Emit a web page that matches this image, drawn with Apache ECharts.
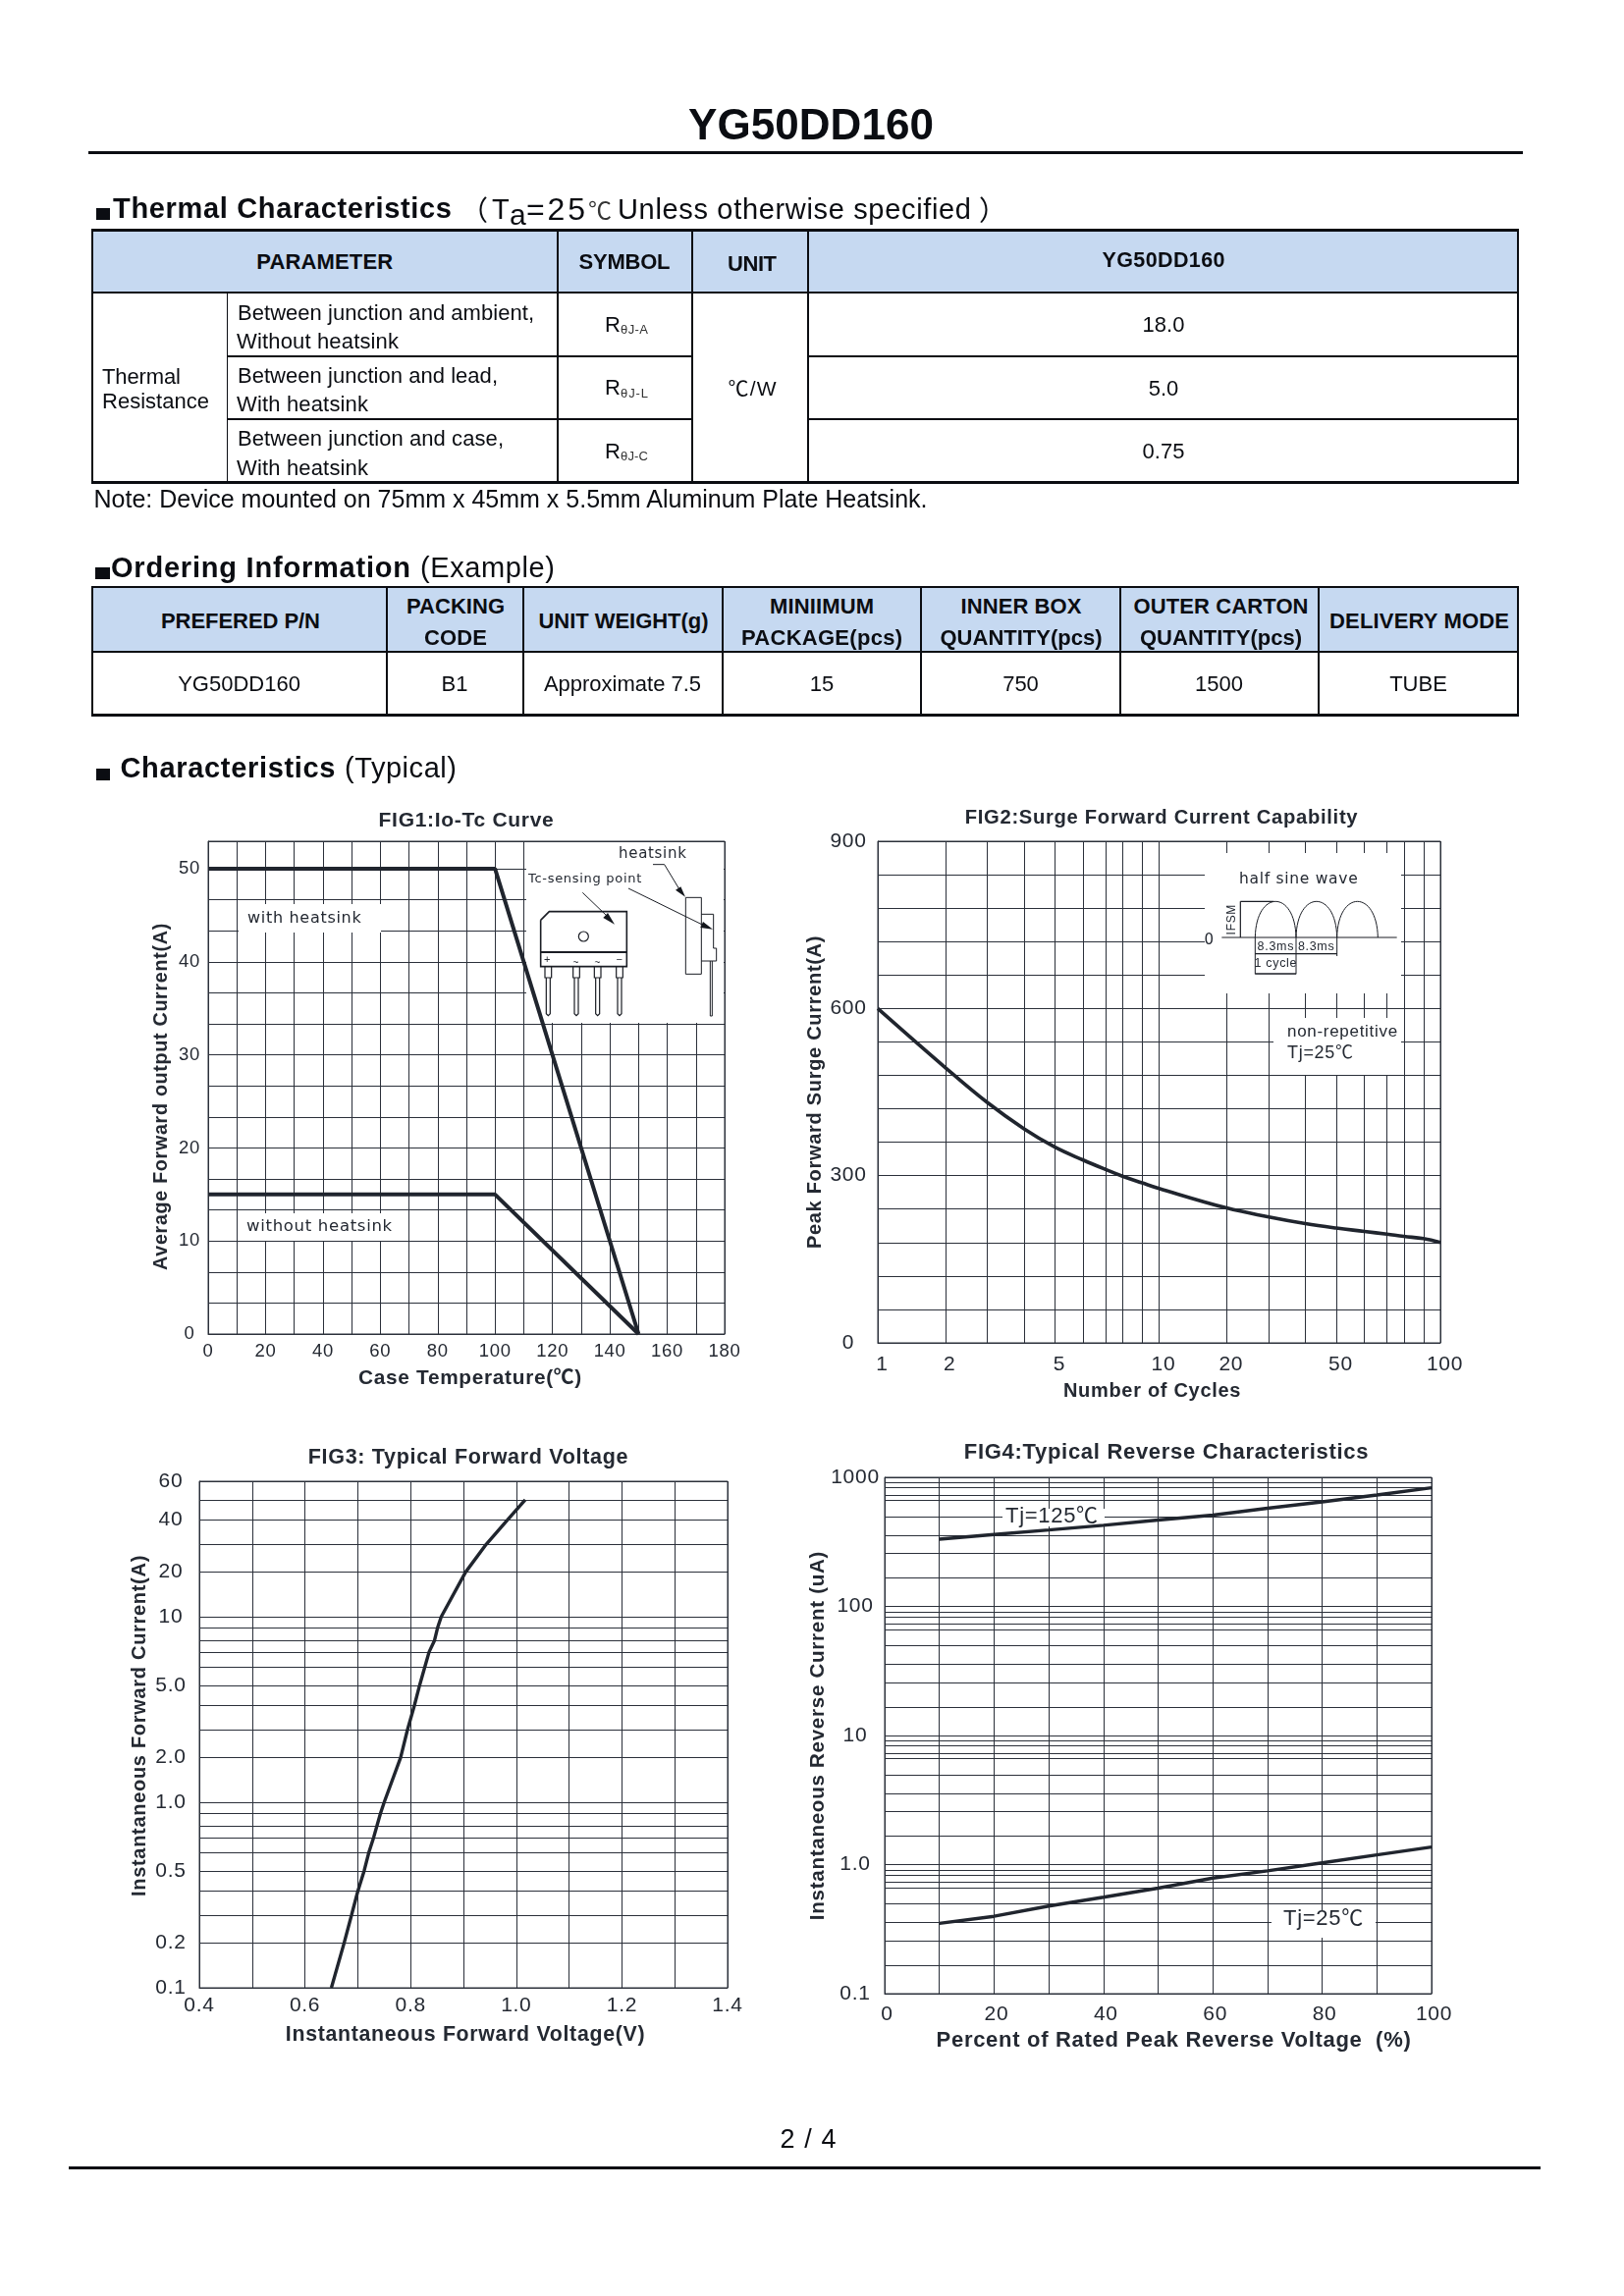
<!DOCTYPE html>
<html><head><meta charset="utf-8"><title>YG50DD160</title>
<script src="https://cdn.jsdelivr.net/npm/echarts@6/dist/echarts.min.js"></script>
<style>
html,body{margin:0;padding:0;background:#fff}
#page{position:relative;width:1654px;height:2339px;overflow:hidden;background:#fff;font-family:"Liberation Sans","Noto Sans CJK SC",Arial,sans-serif;color:#0b0d12}
#chart{position:absolute;left:0;top:0;width:1654px;height:2339px}
.t{position:absolute;white-space:pre;line-height:1}
.b{position:absolute}
</style></head><body>
<div id="page"><div id="chart"></div></div>
<script>
// ---------- page text and table values ----------
const partNumber = 'YG50DD160';
const thermalHeaders = ['PARAMETER', 'SYMBOL', 'UNIT', 'YG50DD160'];
const thermalGroup = ['Thermal', 'Resistance'];
const thermalRows = [
  ['Between junction and ambient,', 'Without heatsink'],
  ['Between junction and lead,', 'With heatsink'],
  ['Between junction and case,', 'With heatsink']];
const thermalSymbols = ['θJ-A', 'θJ-L', 'θJ-C'];
const thermalUnit = '℃/W';
const thermalValues = ['18.0', '5.0', '0.75'];
const thermalNote = 'Note: Device mounted on 75mm x 45mm x 5.5mm Aluminum Plate Heatsink.';
const orderHeaders = [['PREFERED P/N'], ['PACKING', 'CODE'], ['UNIT WEIGHT(g)'], ['MINIIMUM', 'PACKAGE(pcs)'],
  ['INNER BOX', 'QUANTITY(pcs)'], ['OUTER CARTON', 'QUANTITY(pcs)'], ['DELIVERY MODE']];
const orderValues = ['YG50DD160', 'B1', 'Approximate 7.5', '15', '750', '1500', 'TUBE'];

// ---------- FIG1 ----------
const fig1Temp = [0, 100, 150];
const fig1With = [50, 50, 0];
const fig1Without = [15, 15, 0];
const fig1XTicks = [0,10,20,30,40,50,60,70,80,90,100,110,120,130,140,150,160,170,180];
const fig1XLabels = [0,20,40,60,80,100,120,140,160,180];
const fig1YTicks = [0,3.333,6.667,10,13.333,16.667,20,23.333,26.667,30,33.333,36.667,40,43.333,46.667,50,52.96];
const fig1YLabels = [0,10,20,30,40,50];

// ---------- semi-log paper: where printed values fall inside a decade ----------
const paperStops = [0,.24,.39,.52,.63,.73,.81,.87,.94,1];
const fig4Stops  = [0,.22,.41,.55,.695,.82,.865,.92,.96,1];

// ---------- FIG2 ----------
const fig2Cycles = [1,2,3,4,5,6,7,8,9,10,20,30,40,50,60,70,80,90,100];
const fig2Surge  = [600,494,431,384,351,328,311,299,287,277,242,226,214,206,200,195,191,187,180];
const fig2XLabels = [1,2,5,10,20,50,100];
const fig2YTicks = [0,60,120,180,240,300,360,420,480,540,600,660,720,780,840,900];
const fig2YLabels = [0,300,600,900];

// ---------- FIG3 ----------
const fig3Volt = [.650,.674,.688,.700,.712,.721,.730,.736,.743,.750,.781,.794,.807,.817,.827,.835,.845,.851,.858,.904,.943,.983,1.017];
const fig3Amp  = [.1,.2,.3,.4,.5,.6,.7,.8,.9,1,2,3,4,5,6,7,8,9,10,20,30,40,50];
const fig3XTicks = [.4,.5,.6,.7,.8,.9,1,1.1,1.2,1.3,1.4];
const fig3XLabels = [.4,.6,.8,1,1.2,1.4];
const fig3YTicks = [.1,.2,.3,.4,.5,.6,.7,.8,.9,1,2,3,4,5,6,7,8,9,10,20,30,40,50,60];
const fig3YLabels = {'0.1':'0.1','0.2':'0.2','0.5':'0.5','1':'1.0','2':'2.0','5':'5.0','10':'10','20':'20','40':'40','60':'60'};

// ---------- FIG4 ----------
const fig4Percent = [10,20,30,40,50,60,70,80,90,100];
const fig4Tj125 = [379,405,429,454,482,510,552,592,696,798];
const fig4Tj25  = [.396,.434,.489,.542,.598,.755,.878,1.06,1.34,1.62];
const fig4XTicks = [0,10,20,30,40,50,60,70,80,90,100];
const fig4XLabels = [0,20,40,60,80,100];
const fig4YTicks = [.1,.2,.3,.4,.5,.6,.7,.8,.9,1,2,3,4,5,6,7,8,9,10,20,30,40,50,60,70,80,90,100,200,300,400,500,600,700,800,900,1000];
const fig4YLabels = {'0.1':'0.1','1':'1.0','10':'10','100':'100','1000':'1000'};

// ---------- helpers ----------
function paper(v, stops) {
  const d = Math.floor(Math.log10(v) + 1e-9);
  const m = v / Math.pow(10, d);
  const i = Math.min(Math.floor(m + 1e-9), 9);
  return d + stops[i-1] + (stops[i] - stops[i-1]) * (m - i);
}
const INK = '#242932', GRID = '#2b303a', FONT = '"Liberation Sans","Noto Sans CJK SC",Arial,sans-serif';
const p2 = v => paper(v, paperStops), p4 = v => paper(v, fig4Stops);
const key = v => v.toFixed(4);
function lookup(values, fn, text) {
  const m = {}; values.forEach(v => m[key(fn(v))] = text ? text(v) : String(v));
  return x => { const k = m[key(x)]; return k === undefined ? '' : k; };
}
function xAxis(i, o) {
  return Object.assign({ gridIndex:i, type:'value', nameLocation:'middle',
    axisLine:{show:true,onZero:false,lineStyle:{color:GRID,width:1}}, axisTick:{show:false,customValues:o.ticks},
    splitLine:{show:true,lineStyle:{color:GRID,width:1}},
    nameTextStyle:Object.assign({fontFamily:FONT,fontWeight:'bold',fontSize:20,color:INK},o.nameStyle||{}) ,
    axisLabel:{customValues:o.labels,formatter:o.fmt,color:INK,fontFamily:FONT,fontSize:o.fs||21,margin:o.margin,hideOverlap:false,showMinLabel:true,showMaxLabel:true,padding:o.labelPad||0}
  }, {min:o.min,max:o.max,name:o.name,nameGap:o.gap});
}
function yAxis(i, o) {
  const a = xAxis(i, o);
  a.axisLabel.align = 'center';
  return a;
}
function line(xi, name, pts, w, smooth) {
  return { type:'line', name, xAxisIndex:xi, yAxisIndex:xi, data:pts, symbol:'none', clip:false, smooth:smooth||false,
    lineStyle:{color:'#20252e',width:w||3.6,cap:'butt'}, silent:true, animation:false };
}

// ---------- graphic annotations (insets, notes) ----------
const g = [];
const mask = (x0,y0,x1,y1) => g.push({type:'rect',silent:true,z:1,shape:{x:x0,y:y0,width:x1-x0,height:y1-y0},style:{fill:'#fff'}});
const label = (s,x,y,font,extra) => g.push({type:'text',silent:true,z:5,x,y,rotation:(extra&&extra.rot)||0,
  style:{text:s,font,fill:(extra&&extra.fill)||INK,textAlign:(extra&&extra.align)||'left',textVerticalAlign:'middle'}});
const poly = (pts,lw,col) => g.push({type:'polyline',silent:true,z:4,shape:{points:pts},style:{stroke:col||'#1a1d24',lineWidth:lw||1,fill:null}});
const tri = (pts) => g.push({type:'polygon',silent:true,z:4,shape:{points:pts},style:{fill:'#14171d'}});
const DJ = '"DejaVu Sans",sans-serif', LS = FONT;

// FIG1 masks and notes
mask(536,858,737,1042);
mask(243,921,388,950);
mask(243,1236,400,1264);
label('with heatsink',252,936,'16px '+DJ);
label('without heatsink',251,1250,'16.5px '+DJ);
const f1 = (a,b) => [520+a/3,850+b/3];
label('heatsink',630,870,'15px '+DJ);
label('Tc-sensing point',538,896,'13px '+DJ);
poly([f1(92,262),f1(118,236),f1(355,236),f1(355,404),f1(92,404),f1(92,262)],1.6);
poly([f1(92,360),f1(355,360)],2);
g.push({type:'circle',silent:true,z:4,shape:{cx:520+223/3,cy:850+312/3,r:5},style:{fill:'#fff',stroke:'#1a1d24',lineWidth:1.2}});
label('+',520+113/3,850+383/3,'11px '+LS,{align:'center'});
label('~',520+200/3,850+394/3,'10px '+LS,{align:'center'});
label('~',520+266/3,850+394/3,'10px '+LS,{align:'center'});
label('−',520+333/3,850+383/3,'11px '+LS,{align:'center'});
[115,201,266,333].forEach(c=>{
  poly([f1(c-10,404),f1(c-10,438),f1(c+10,438),f1(c+10,404)],1.2);
  poly([f1(c-6,438),f1(c-6,548),f1(c,554),f1(c+6,548),f1(c+6,438)],1.2);
});
poly([f1(535,193),f1(583,193),f1(583,427),f1(535,427),f1(535,193)],1);
poly([f1(583,244),f1(620,244),f1(620,348),f1(629,348),f1(629,387),f1(583,387)],1);
poly([f1(610,387),f1(610,555),f1(616,555),f1(616,387)],1);
poly([f1(435,92),f1(470,92),f1(520,175)],1);
tri([f1(534,191),f1(504,170),f1(520,160)]);
poly([f1(360,165),f1(590,278)],1);
tri([f1(618,290),f1(580,285),f1(588,267)]);
poly([f1(220,178),f1(295,250)],1);
tri([f1(318,275),f1(283,255),f1(297,240)]);

// FIG2 masks and notes
mask(1227,869,1427,1012);
mask(1297,1037,1427,1095);
const f2 = (a,b) => [1210+a/3,870+b/3];
label('half sine wave',1262,896,'15.5px '+DJ);
poly([f2(103,255),f2(638,255)],1);
[[205,330],[330,455],[455,580]].forEach(([a,b])=>{
  const P0=f2(a,255),P1=f2(b,255),h=110/3*4/3;
  g.push({type:'bezierCurve',silent:true,z:4,shape:{x1:P0[0],y1:P0[1],x2:P1[0],y2:P1[1],cpx1:P0[0]+1,cpy1:P0[1]-h,cpx2:P1[0]-1,cpy2:P1[1]-h},style:{stroke:'#1a1d24',lineWidth:1,fill:null}});
});
poly([f2(160,145),f2(262,145)],1.2);
poly([f2(160,145),f2(160,255)],1.2);
label('IFSM',1210+133/3,870+200/3,'12px '+LS,{align:'center',rot:Math.PI/2});
label('0',1210+65/3,870+263/3,'15px '+DJ,{align:'center'});
poly([f2(205,255),f2(205,367)],1);
poly([f2(330,255),f2(330,367)],1);
poly([f2(455,255),f2(455,312)],1);
poly([f2(205,305),f2(455,305)],1.2);
poly([f2(205,366),f2(330,366)],1.6);
label('8.3ms',1210+268/3,870+285/3,'12.5px '+LS,{align:'center'});
label('8.3ms',1210+392/3,870+285/3,'12.5px '+LS,{align:'center'});
label('1 cycle',1210+268/3,870+336/3,'12.5px '+LS,{align:'center'});
label('non-repetitive',1311,1051,'17px '+LS);
label('Tj=25℃',1311,1073,'18px '+LS);

// FIG4 notes
mask(1021,1537,1125,1555);
mask(1295,1946,1401,1974);
label('Tj=125℃',1024,1545,'22px '+LS);
label('Tj=25℃',1307,1955,'22px '+LS);

// ---------- the four charts ----------
const titleStyle = s => ({fontFamily:FONT,fontSize:s,fontWeight:'bold',color:INK});
const option = {
  animation:false,
  backgroundColor:'transparent',
  title:[
    {text:'FIG1:Io-Tc Curve',left:470,top:831.5,textAlign:'center',textVerticalAlign:'middle',textStyle:titleStyle(21)},
    {text:'FIG2:Surge Forward Current Capability',left:1178,top:828.5,textAlign:'center',textVerticalAlign:'middle',textStyle:titleStyle(20.2)},
    {text:'FIG3: Typical Forward Voltage',left:472,top:1480.5,textAlign:'center',textVerticalAlign:'middle',textStyle:titleStyle(21.5)},
    {text:'FIG4:Typical Reverse Characteristics',left:1183,top:1474.5,textAlign:'center',textVerticalAlign:'middle',textStyle:titleStyle(22)}
  ],
  grid:[
    {left:212,top:857,width:526,height:502,show:true,borderColor:GRID,borderWidth:1,backgroundColor:'transparent',containLabel:false},
    {left:894,top:857,width:573,height:511,show:true,borderColor:GRID,borderWidth:1,backgroundColor:'transparent',containLabel:false},
    {left:203,top:1509,width:538,height:516,show:true,borderColor:GRID,borderWidth:1,backgroundColor:'transparent',containLabel:false},
    {left:901,top:1505,width:557,height:526,show:true,borderColor:GRID,borderWidth:1,backgroundColor:'transparent',containLabel:false}
  ],
  xAxis:[
    xAxis(0,{min:0,max:180,ticks:fig1XTicks,labels:fig1XLabels,fmt:v=>String(v),fs:18.5,margin:9,name:'Case Temperature(℃)',gap:35,nameStyle:{fontSize:20.8,padding:[0,0,0,8]}}),
    xAxis(1,{min:0,max:2,ticks:fig2Cycles.map(p2),labels:fig2XLabels.map(p2),fmt:lookup(fig2XLabels,p2),margin:12,labelPad:[0,0,0,9],name:'Number of Cycles',gap:39,nameStyle:{padding:[0,14,0,0]}}),
    xAxis(2,{min:.4,max:1.4,ticks:fig3XTicks,labels:fig3XLabels,fmt:v=>v.toFixed(1),margin:8,name:'Instantaneous Forward Voltage(V)',gap:37,nameStyle:{fontSize:21.3,padding:[0,0,0,4]}}),
    xAxis(3,{min:0,max:100,ticks:fig4XTicks,labels:fig4XLabels,fmt:v=>String(v),margin:11,labelPad:[0,0,0,5],name:'Percent of Rated Peak Reverse Voltage  (%)',gap:37,nameStyle:{fontSize:22,padding:[0,0,0,32]}})
  ],
  yAxis:[
    yAxis(0,{min:0,max:52.96,ticks:fig1YTicks,labels:fig1YLabels,fmt:v=>String(v),fs:18.5,margin:19,name:'Average Forward output Current(A)',gap:38,nameStyle:{fontSize:19.7,padding:[0,18,0,0]}}),
    yAxis(1,{min:0,max:900,ticks:fig2YTicks,labels:fig2YLabels,fmt:v=>String(v),margin:30,name:'Peak Forward Surge Current(A)',gap:54}),
    yAxis(2,{min:p2(.1),max:p2(60),ticks:fig3YTicks.map(p2),labels:Object.keys(fig3YLabels).map(s=>p2(+s)),
      fmt:lookup(Object.keys(fig3YLabels).map(Number),p2,v=>fig3YLabels[String(v)]),margin:29,name:'Instantaneous Forward Current(A)',gap:51,nameStyle:{padding:[0,0,0,18]}}),
    yAxis(3,{min:p4(.1),max:p4(1000),ticks:fig4YTicks.map(p4),labels:Object.keys(fig4YLabels).map(s=>p4(+s)),
      fmt:lookup(Object.keys(fig4YLabels).map(Number),p4,v=>fig4YLabels[String(v)]),margin:30,name:'Instantaneous Reverse Current (uA)',gap:57,nameStyle:{fontSize:20.6}})
  ],
  series:[
    line(0,'with heatsink',fig1Temp.map((x,i)=>[x,fig1With[i]]),4),
    line(0,'without heatsink',fig1Temp.map((x,i)=>[x,fig1Without[i]]),4),
    line(1,'surge',fig2Cycles.map((c,i)=>[p2(c),fig2Surge[i]]),3.6,0.4),
    line(2,'forward',fig3Volt.map((v,i)=>[v,p2(fig3Amp[i])]),3.4),
    line(3,'Tj=125℃',fig4Percent.map((x,i)=>[x,p4(fig4Tj125[i])]),3.4),
    line(3,'Tj=25℃',fig4Percent.map((x,i)=>[x,p4(fig4Tj25[i])]),3.4)
  ],
  graphic:{elements:g}
};
const chart = echarts.init(document.getElementById('chart'));
// the printed chart text is slightly tracked out
try { const lc = chart.getZr().painter.getLayer(0).ctx; if (lc && 'letterSpacing' in lc) lc.letterSpacing = '0.7px'; } catch (e) {}
chart.setOption(option);

// ---------- page furniture (heading, tables) ----------
const page = document.getElementById('page');
function rect(x,y,w,h,c){const d=document.createElement('div');d.className='b';d.style.cssText=`left:${x}px;top:${y}px;width:${w}px;height:${h}px;background:${c}`;page.appendChild(d);return d;}
function txt(s,x,y,size,o){ o=o||{};
  const d=document.createElement('div');d.className='t';d.textContent=s;
  d.style.cssText=`font-size:${size}px;font-weight:${o.b?'bold':'normal'};`+(o.family?`font-family:${o.family};`:'')+(o.color?`color:${o.color};`:'');
  page.appendChild(d);
  const r=d.getBoundingClientRect();
  let w=r.width;
  if(o.w){const sp=(o.w-w)/Math.max(1,s.length-1);d.style.letterSpacing=sp+'px';w=o.w;}
  const left=o.c?x-w/2:x;
  d.style.left=left+'px';d.style.top=(y-size/2)+'px';
  return d;
}
const BK='#0b0d12', CJK='"Noto Sans CJK SC"';
// heading
txt(partNumber,826,127,44,{b:1,c:1,w:250});
rect(90,154,1461,3,BK);
rect(98,212,14,12,BK);
txt('Thermal Characteristics',115,212,29,{b:1,w:345});
txt('（',469,213,28,{family:CJK});
txt('T',501,213,29);
txt('a',519,219,30);
txt('=25',536,213,32,{w:60});
txt('℃',599,213,24,{family:CJK,color:'#333'});
txt('Unless otherwise specified',629,213,29,{w:360});
txt('）',997,213,28,{family:CJK});
// thermal table
const tx=[94,231.7,567.5,705,823,1546], ty=[234,297.5,362.5,426.5,491];
rect(tx[0],ty[0],tx[5]-tx[0],ty[1]-ty[0],'#c6d9f1');
[0,4].forEach(i=>rect(tx[0]-1,ty[i]-1,tx[5]-tx[0]+2,2.5,BK));
rect(tx[0]-1,ty[1]-1,tx[5]-tx[0]+2,2,BK);
[2,3].forEach(i=>{rect(tx[1],ty[i]-1,tx[3]-tx[1],2,BK);rect(tx[4],ty[i]-1,tx[5]-tx[4],2,BK);});
rect(tx[0]-1,ty[0],2,ty[4]-ty[0],BK);rect(tx[5]-1,ty[0],2,ty[4]-ty[0],BK);
rect(tx[1]-1,ty[1],1.6,ty[4]-ty[1],BK);
[2,3,4].forEach(i=>rect(tx[i]-1,ty[0],2,ty[4]-ty[0],BK));
txt(thermalHeaders[0],330.7,266.5,22,{b:1,c:1,w:139});
txt(thermalHeaders[1],636,266.5,22,{b:1,c:1,w:93});
txt(thermalHeaders[2],766,269,22,{b:1,c:1,w:50});
txt(thermalHeaders[3],1185,266,21.5,{b:1,c:1,w:125});
txt(thermalGroup[0],104,384,22,{w:80});
txt(thermalGroup[1],104,409,22,{w:109});
const rowY=[[319,347.5],[382.5,411.5],[446.5,476.5]], symY=[330.5,395,459.5], valY=[331,396,460];
thermalRows.forEach((r,i)=>{
  txt(r[0],242,rowY[i][0],22,{w:[302,265,271][i]});
  txt(r[1],241,rowY[i][1],22,{w:[165,134,134][i]});
  txt('R',616,symY[i],22);
  txt(thermalSymbols[i],632,symY[i]+5,13,{w:28,color:'#333'});
  txt(thermalValues[i],1185,valY[i],22,{c:1});
});
txt(thermalUnit,766,395,21,{c:1,w:49});
txt(thermalNote,95.5,508,25,{w:849});
// ordering
rect(96.5,578,15,12,BK);
txt('Ordering Information',113,578,29,{b:1,w:305});
txt('(Example)',428,578,29,{w:137});
const ox=[94,394,532.8,735.8,938,1140.5,1343.3,1546], oy=[597.7,664,728];
rect(ox[0],oy[0],ox[7]-ox[0],oy[1]-oy[0],'#c6d9f1');
rect(ox[0]-1,oy[0]-1,ox[7]-ox[0]+2,2,BK);rect(ox[0]-1,oy[1]-1,ox[7]-ox[0]+2,2,BK);rect(ox[0]-1,oy[2]-1.5,ox[7]-ox[0]+2,3,BK);
ox.forEach(x=>rect(x-1,oy[0],2,oy[2]-oy[0],BK));
const ow=[[162],[100,64],[173],[106,164],[123,165],[178,165],[183]];
const oc=[245,464,635,837,1040,1243.5,1445.5];
orderHeaders.forEach((h,i)=>{
  if(h.length===1) txt(h[0],oc[i],633,22,{b:1,c:1,w:ow[i][0]});
  else { txt(h[0],oc[i],618,22,{b:1,c:1,w:ow[i][0]}); txt(h[1],oc[i],649.5,22,{b:1,c:1,w:ow[i][1]}); }
  txt(orderValues[i],[243.5,463,634,837,1039.5,1241.6,1444.5][i],696.5,22,{c:1});
});
// characteristics
rect(98,783,14,12,BK);
txt('Characteristics',122.5,782,29,{b:1,w:219});
txt('(Typical)',351,782,29,{w:114});
// footer
txt('2 / 4',823,2179,27,{c:1,w:57});
rect(70,2207,1499,3,BK);
</script>
</body></html>
